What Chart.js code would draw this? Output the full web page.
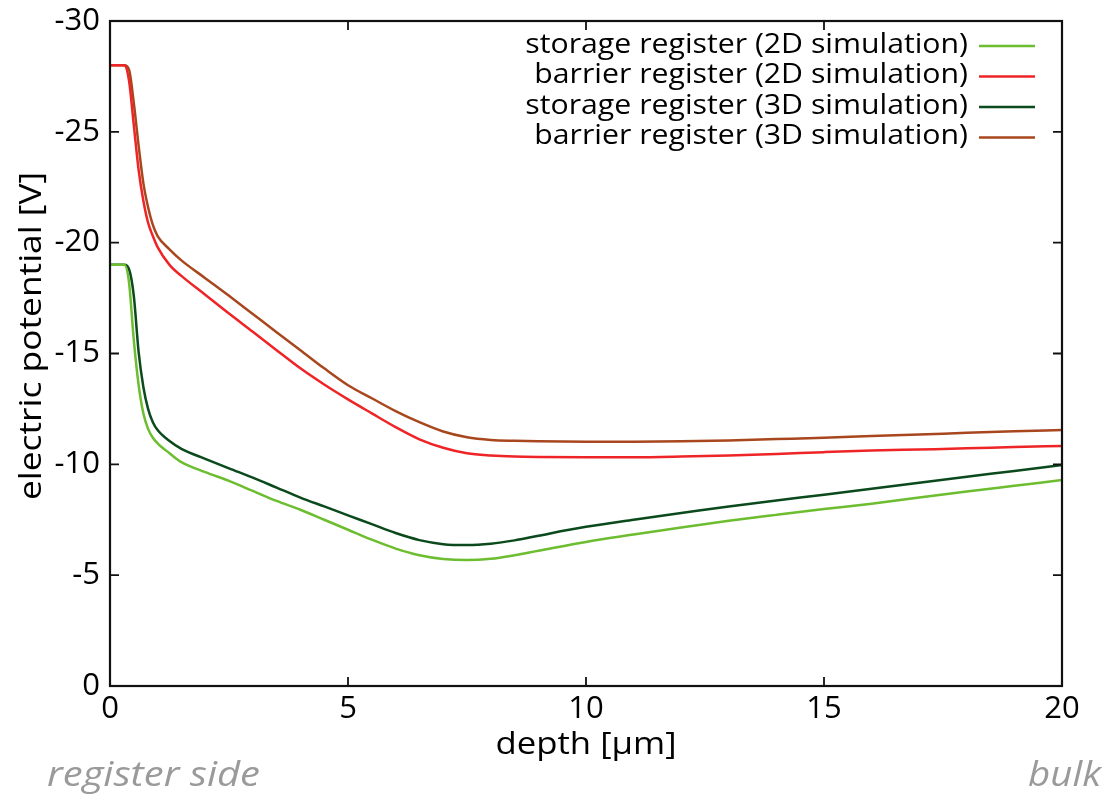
<!DOCTYPE html>
<html>
<head>
<meta charset="utf-8">
<script src="https://cdn.jsdelivr.net/npm/chart.js@4.4.0/dist/chart.umd.min.js"></script>
<style>
html, body { margin: 0; padding: 0; background: #fff; }
canvas { display: block; }
</style>
</head>
<body>
<canvas id="chart" width="1108" height="796"></canvas>
<script>
// depth grid [µm] and potentials [V]
const depth = [0, 0.3, 0.4, 0.5, 0.6, 0.7, 0.8, 0.9, 1.0, 1.25, 1.5, 2, 2.5, 3, 3.5, 4, 4.5, 5, 5.5, 6, 6.5, 7, 7.5, 8, 8.5, 9, 10, 11, 12, 13, 14, 15, 16, 17, 18, 19, 20];

const storage2D = [-19.0, -19.0, -18.2, -15.6, -13.6, -12.3, -11.6, -11.2, -10.95, -10.5, -10.1, -9.65, -9.25, -8.8, -8.35, -7.95, -7.5, -7.05, -6.6, -6.2, -5.9, -5.73, -5.68, -5.74, -5.9, -6.1, -6.5, -6.83, -7.15, -7.45, -7.72, -7.98, -8.22, -8.5, -8.77, -9.03, -9.29];
const barrier2D = [-28.0, -28.0, -27.3, -25.3, -23.3, -21.9, -20.9, -20.3, -19.8, -19.0, -18.5, -17.65, -16.8, -15.98, -15.15, -14.33, -13.6, -12.93, -12.3, -11.68, -11.13, -10.75, -10.5, -10.4, -10.35, -10.33, -10.32, -10.32, -10.35, -10.4, -10.47, -10.55, -10.62, -10.67, -10.72, -10.78, -10.83];
const storage3D = [-19.0, -19.0, -18.8, -17.6, -15.1, -13.5, -12.5, -11.9, -11.55, -11.05, -10.7, -10.25, -9.82, -9.4, -8.95, -8.5, -8.1, -7.7, -7.3, -6.9, -6.58, -6.4, -6.36, -6.42, -6.57, -6.78, -7.18, -7.5, -7.8, -8.1, -8.37, -8.63, -8.9, -9.17, -9.44, -9.7, -9.97];
const barrier3D = [-28.0, -28.0, -27.8, -26.3, -24.4, -22.7, -21.6, -20.8, -20.3, -19.7, -19.2, -18.4, -17.6, -16.78, -15.96, -15.15, -14.33, -13.57, -12.98, -12.4, -11.9, -11.48, -11.22, -11.1, -11.06, -11.04, -11.02, -11.02, -11.04, -11.08, -11.14, -11.2, -11.28, -11.35, -11.42, -11.49, -11.55];

const seriesLabels = ['storage register (2D simulation)', 'barrier register (2D simulation)', 'storage register (3D simulation)', 'barrier register (3D simulation)'];
const seriesColors = ['#6cbd2f', '#ee2426', '#0b4a1c', '#a8471e'];
const xTicks = [0, 5, 10, 15, 20];
const yTicks = [-30, -25, -20, -15, -10, -5, 0];

const FONT = '"Open Sans", "Noto Sans", sans-serif';

function toPoints(values) {
    return depth.map((d, i) => ({ x: d, y: values[i] }));
}

const datasets = [storage2D, barrier2D, storage3D, barrier3D].map((vals, i) => ({
    label: seriesLabels[i],
    data: toPoints(vals),
    borderColor: seriesColors[i],
    borderWidth: 2.5,
    pointRadius: 0,
    cubicInterpolationMode: 'monotone',
    fill: false
}));

// draws text slightly stretched sideways, like the original's lettering
function wideText(ctx, text, x, y, stretch) {
    ctx.save();
    ctx.translate(x, y);
    ctx.scale(stretch, 1);
    ctx.fillText(text, 0, 0);
    ctx.restore();
}

// frame, inward ticks, titles, legend and side notes
const decorations = {
    id: 'decorations',
    afterDraw(chart) {
        const ctx = chart.ctx;
        const area = chart.chartArea;
        const xs = chart.scales.x;
        const ys = chart.scales.y;
        const tick = 9;
        ctx.save();
        ctx.strokeStyle = '#111';
        ctx.lineWidth = 2.2;
        ctx.strokeRect(area.left, area.top, area.right - area.left, area.bottom - area.top);

        ctx.lineWidth = 1.8;
        ctx.beginPath();
        xTicks.forEach(v => {
            const px = xs.getPixelForValue(v);
            ctx.moveTo(px, area.bottom);
            ctx.lineTo(px, area.bottom - tick);
            ctx.moveTo(px, area.top);
            ctx.lineTo(px, area.top + tick);
        });
        yTicks.forEach(v => {
            const py = ys.getPixelForValue(v);
            ctx.moveTo(area.left, py);
            ctx.lineTo(area.left + tick, py);
            ctx.moveTo(area.right, py);
            ctx.lineTo(area.right - tick, py);
        });
        ctx.stroke();

        // axis titles
        ctx.fillStyle = '#000';
        ctx.font = '31px ' + FONT;
        ctx.textAlign = 'center';
        ctx.textBaseline = 'middle';
        wideText(ctx, 'depth [µm]', (area.left + area.right) / 2, 745, 1.12);
        ctx.save();
        ctx.translate(32, 336);
        ctx.rotate(-Math.PI / 2);
        wideText(ctx, 'electric potential [V]', 0, 0, 1.14);
        ctx.restore();

        // legend
        ctx.font = '27px ' + FONT;
        ctx.textAlign = 'right';
        chart.data.datasets.forEach((ds, i) => {
            const y = area.top + 24 + i * 30.5;
            ctx.fillStyle = '#000';
            wideText(ctx, ds.label, area.right - 94, y, 1.12);
            ctx.strokeStyle = ds.borderColor;
            ctx.lineWidth = 2.5;
            ctx.beginPath();
            ctx.moveTo(area.right - 83, y + 1);
            ctx.lineTo(area.right - 27, y + 1);
            ctx.stroke();
        });

        // side notes
        ctx.fillStyle = '#9a9a9a';
        ctx.font = 'italic 35px ' + FONT;
        ctx.textBaseline = 'alphabetic';
        ctx.textAlign = 'left';
        wideText(ctx, 'register side', 47, 786, 1.14);
        ctx.textAlign = 'right';
        wideText(ctx, 'bulk', 1101, 786, 1.1);
        ctx.restore();
    }
};

new Chart(document.getElementById('chart'), {
    type: 'line',
    data: { datasets: datasets },
    options: {
        responsive: false,
        animation: false,
        layout: { padding: { left: 0, top: 21, right: 46, bottom: 0 } },
        plugins: {
            legend: { display: false },
            tooltip: { enabled: false }
        },
        scales: {
            x: {
                type: 'linear',
                min: 0,
                max: 20,
                grid: { display: false, drawTicks: false },
                border: { display: false },
                ticks: {
                    stepSize: 5,
                    padding: 5,
                    color: '#000',
                    font: { family: FONT, size: 31 }
                },
                afterFit(scale) {
                    scale.height = 110;
                    scale.paddingLeft = 0;
                    scale.paddingRight = 0;
                }
            },
            y: {
                type: 'linear',
                min: -30,
                max: 0,
                reverse: true,
                grid: { display: false, drawTicks: false },
                border: { display: false },
                ticks: {
                    stepSize: 5,
                    padding: 10,
                    color: '#000',
                    font: { family: FONT, size: 31 }
                },
                afterFit(scale) {
                    scale.width = 110;
                    scale.paddingTop = 0;
                    scale.paddingBottom = 0;
                }
            }
        }
    },
    plugins: [decorations]
});
</script>
</body>
</html>
